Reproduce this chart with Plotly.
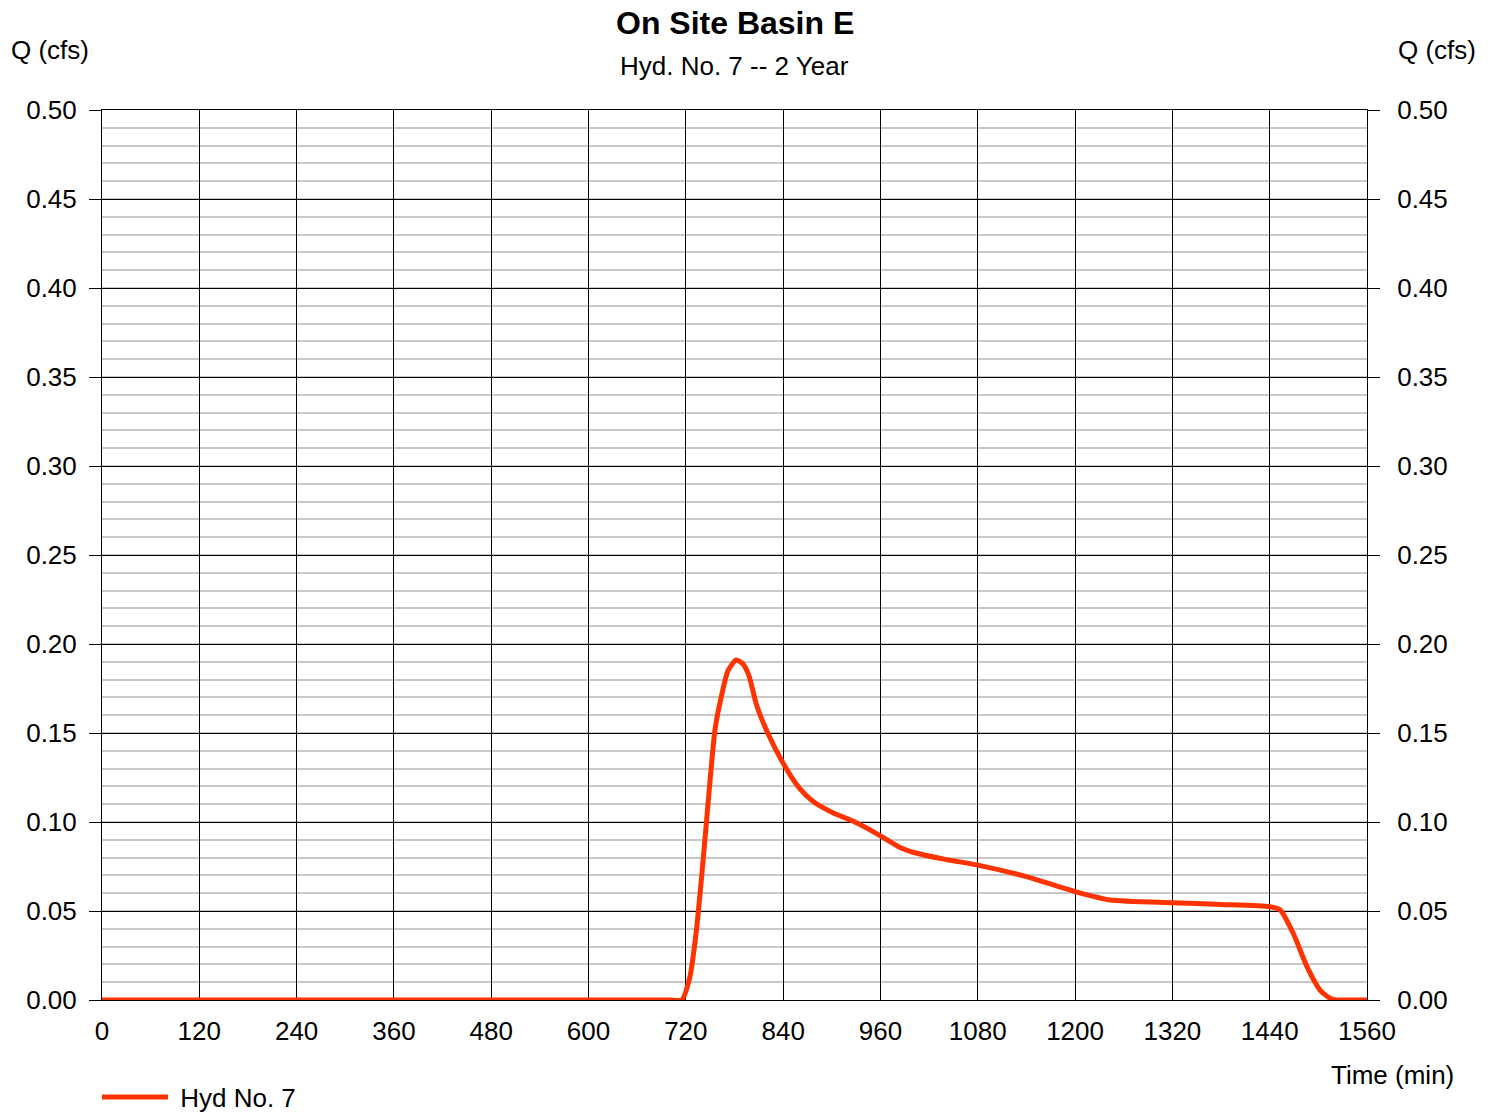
import plotly.graph_objects as go

# Data
time_min = [0, 120, 240, 360, 480, 600, 700, 715, 725, 733, 741, 750, 756, 764, 772, 782,
            790, 798, 807, 820, 840, 860, 877, 900, 926, 959, 985, 1000, 1040, 1080,
            1140, 1200, 1243, 1320, 1380, 1440, 1453, 1469, 1486, 1502, 1515, 1523, 1540, 1560]
flow_cfs = [0, 0, 0, 0, 0, 0, 0, 0, 0.013, 0.039, 0.077, 0.124, 0.152, 0.171, 0.185, 0.191,
            0.189, 0.182, 0.166, 0.151, 0.133, 0.119, 0.1115, 0.1055, 0.1005, 0.0925, 0.0855,
            0.0830, 0.0790, 0.0758, 0.0693, 0.0609, 0.0562, 0.0547, 0.0537, 0.0524, 0.0506,
            0.0375, 0.0187, 0.0056, 0.0008, 0, 0, 0]
x_ticks = list(range(0, 1561, 120))
y_ticks = [0.00, 0.05, 0.10, 0.15, 0.20, 0.25, 0.30, 0.35, 0.40, 0.45, 0.50]
y_tick_labels = [f"{v:.2f}" for v in y_ticks]

FONT = "Liberation Sans, Arial, sans-serif"
RED = "#FF3300"
FS = 26

# plot area target in page pixels: x 102..1367, y 110..1000 (body margin removed)
PL, PR, PT, PB = 102, 1367, 110, 1000
PLOT_W = PR - PL
PLOT_H = PB - PT


def px_x(x):
    return (x - PL) / PLOT_W


def px_y(y):
    return (PB - y) / PLOT_H


fig = go.Figure()
fig.add_trace(go.Scatter(x=time_min, y=flow_cfs, mode="lines", name="\u00a0Hyd No. 7",
                         line=dict(color=RED, width=5, shape="spline", smoothing=0.6),
                         hoverinfo="skip"))
# invisible trace bound to right-hand axis so it is drawn
fig.add_trace(go.Scatter(x=time_min, y=flow_cfs, mode="lines", yaxis="y2",
                         line=dict(color="rgba(0,0,0,0)", width=0), showlegend=False,
                         hoverinfo="skip"))

yaxis_common = dict(
    range=[0, 0.5], tickvals=y_ticks, ticktext=y_tick_labels,
    ticks="outside", ticklen=12, tickcolor="black", tickwidth=1,
    tickfont=dict(family=FONT, size=FS, color="black"),
)

fig.update_layout(
    width=1496, height=1112,
    margin=dict(l=PL, r=1496 - PR, t=PT, b=1112 - PB, autoexpand=False),
    paper_bgcolor="white", plot_bgcolor="white",
    font=dict(family=FONT, size=FS, color="black"),
    showlegend=True,
    legend=dict(orientation="h", x=px_x(97), xanchor="left", y=px_y(1097), yanchor="middle",
                font=dict(family=FONT, size=FS, color="black"),
                bgcolor="rgba(0,0,0,0)", itemwidth=66),
    xaxis=dict(
        range=[0, 1560], tickvals=x_ticks, ticks="",
        showgrid=True, gridcolor="black", gridwidth=1,
        showline=True, linecolor="black", linewidth=1, mirror=True,
        zeroline=False,
        tickfont=dict(family=FONT, size=FS, color="black"),
        ticklabelstandoff=8,
    ),
    yaxis=dict(
        **yaxis_common,
        ticklabelstandoff=7,
        showgrid=True, gridcolor="black", gridwidth=1,
        minor=dict(dtick=0.01, showgrid=True, gridcolor="#c8c8c8", gridwidth=2, ticks=""),
        showline=True, linecolor="black", linewidth=1, mirror=True,
        zeroline=False,
    ),
    yaxis2=dict(
        **yaxis_common,
        ticklabelstandoff=12,
        overlaying="y", side="right", showgrid=False, zeroline=False,
        showline=False,
    ),
)

annots = [
    ("<b>On Site Basin E</b>", 735, 23, 32),
    ("Hyd. No. 7 -- 2 Year", 734, 66, FS),
    ("Q (cfs)", 50, 50, FS),
    ("Q (cfs)", 1437, 50, FS),
    ("Time (min)", 1392, 1075, FS),
]
for text, ax, ay, size in annots:
    fig.add_annotation(text=text, x=px_x(ax), y=px_y(ay), xref="paper", yref="paper",
                       showarrow=False, xanchor="center", yanchor="middle",
                       font=dict(family=FONT, size=size, color="black"))

fig.write_html("out.html", config={"displayModeBar": False},
               post_script="document.body.style.margin='0';document.body.style.overflow='hidden';")
